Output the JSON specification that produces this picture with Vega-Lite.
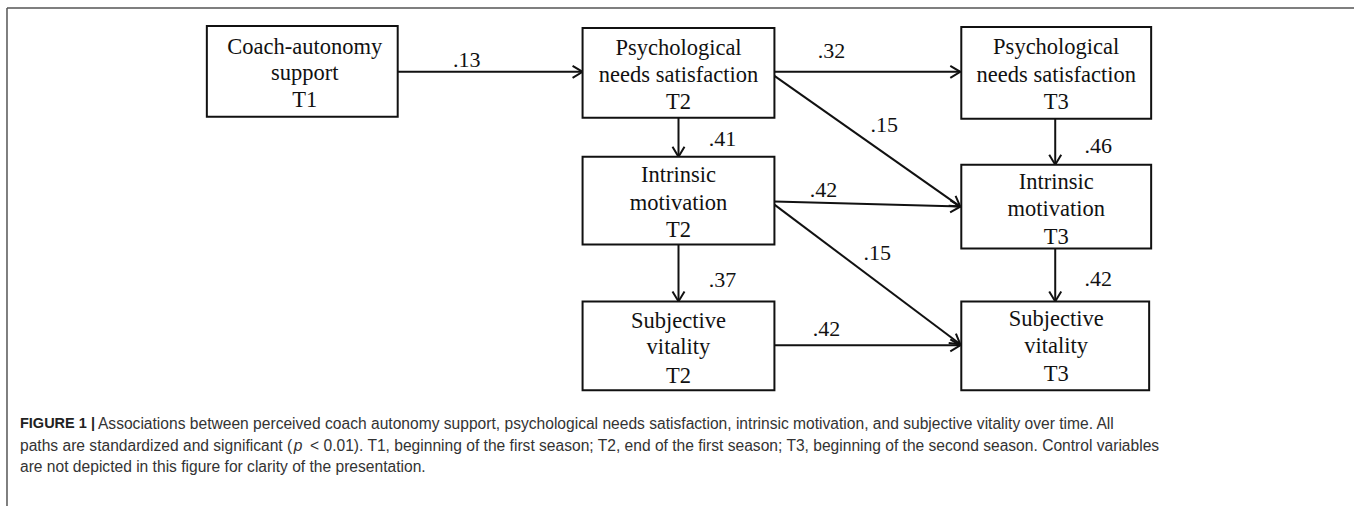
{
  "$schema": "https://vega.github.io/schema/vega-lite/v6.json",
  "autosize": {"type": "fit", "contains": "padding"},
  "width": 1355,
  "height": 507,
  "padding": 0,
  "background": "white",
  "config": {"view": {"stroke": null}},
  "datasets": {
    "frame": [
      {"x": 7, "y": 8, "x2": 1355, "y2": 8},
      {"x": 7, "y": 8, "x2": 7, "y2": 507}
    ],
    "boxes": [
      {"name": "Coach T1", "x": 207, "x2": 398, "y": 26, "y2": 117},
      {"name": "PNS T2", "x": 583, "x2": 775, "y": 28, "y2": 118},
      {"name": "PNS T3", "x": 962, "x2": 1152, "y": 27, "y2": 119},
      {"name": "IM T2", "x": 583, "x2": 775, "y": 157, "y2": 245},
      {"name": "IM T3", "x": 962, "x2": 1152, "y": 165, "y2": 249},
      {"name": "SV T2", "x": 583, "x2": 775, "y": 302, "y2": 391},
      {"name": "SV T3", "x": 962, "x2": 1150, "y": 302, "y2": 391}
    ],
    "boxText": [
      {"x": 305, "y": 47, "text": "Coach-autonomy"},
      {"x": 305, "y": 73, "text": "support"},
      {"x": 305, "y": 100, "text": "T1"},
      {"x": 679, "y": 48, "text": "Psychological"},
      {"x": 679, "y": 75, "text": "needs satisfaction"},
      {"x": 679, "y": 102, "text": "T2"},
      {"x": 1057, "y": 47, "text": "Psychological"},
      {"x": 1057, "y": 75, "text": "needs satisfaction"},
      {"x": 1057, "y": 102, "text": "T3"},
      {"x": 679, "y": 175, "text": "Intrinsic"},
      {"x": 679, "y": 203, "text": "motivation"},
      {"x": 679, "y": 230, "text": "T2"},
      {"x": 1057, "y": 182, "text": "Intrinsic"},
      {"x": 1057, "y": 209, "text": "motivation"},
      {"x": 1057, "y": 237, "text": "T3"},
      {"x": 679, "y": 322, "text": "Subjective"},
      {"x": 679, "y": 348, "text": "vitality"},
      {"x": 679, "y": 377, "text": "T2"},
      {"x": 1057, "y": 320, "text": "Subjective"},
      {"x": 1057, "y": 347, "text": "vitality"},
      {"x": 1057, "y": 375, "text": "T3"}
    ],
    "edges": [
      {"path": "Coach T1 -> PNS T2", "x": 398, "y": 72, "x2": 583, "y2": 72, "angle": 0, "coef": ".13", "lx": 467, "ly": 60},
      {"path": "PNS T2 -> PNS T3", "x": 775, "y": 72, "x2": 961, "y2": 72, "angle": 0, "coef": ".32", "lx": 832, "ly": 51},
      {"path": "PNS T2 -> IM T3", "x": 775, "y": 76, "x2": 961, "y2": 207, "angle": 35.2, "coef": ".15", "lx": 885, "ly": 125},
      {"path": "PNS T2 -> IM T2", "x": 679, "y": 118, "x2": 679, "y2": 157, "angle": 90, "coef": ".41", "lx": 723, "ly": 139},
      {"path": "IM T2 -> IM T3", "x": 775, "y": 202, "x2": 961, "y2": 207, "angle": 1.5, "coef": ".42", "lx": 824, "ly": 190},
      {"path": "IM T2 -> SV T3", "x": 775, "y": 205, "x2": 961, "y2": 345, "angle": 37, "coef": ".15", "lx": 878, "ly": 253},
      {"path": "IM T2 -> SV T2", "x": 679, "y": 245, "x2": 679, "y2": 302, "angle": 90, "coef": ".37", "lx": 723, "ly": 281},
      {"path": "SV T2 -> SV T3", "x": 775, "y": 346, "x2": 961, "y2": 346, "angle": 0, "coef": ".42", "lx": 827, "ly": 330},
      {"path": "PNS T3 -> IM T3", "x": 1056, "y": 119, "x2": 1056, "y2": 165, "angle": 90, "coef": ".46", "lx": 1099, "ly": 146},
      {"path": "IM T3 -> SV T3", "x": 1056, "y": 249, "x2": 1056, "y2": 302, "angle": 90, "coef": ".42", "lx": 1099, "ly": 280}
    ],
    "caption": [
      {"kind": "bold", "x": 20, "y": 425, "text": "FIGURE 1 |"},
      {"kind": "regular", "x": 98, "y": 425, "text": "Associations between perceived coach autonomy support, psychological needs satisfaction, intrinsic motivation, and subjective vitality over time. All"},
      {"kind": "regular", "x": 20, "y": 447, "text": "paths are standardized and significant ("},
      {"kind": "italic", "x": 294, "y": 447, "text": "p"},
      {"kind": "end", "x": 1160, "y": 447, "text": "< 0.01). T1, beginning of the first season; T2, end of the first season; T3, beginning of the second season. Control variables"},
      {"kind": "regular", "x": 20, "y": 468, "text": "are not depicted in this figure for clarity of the presentation."}
    ]
  },
  "encoding": {
    "x": {"field": "x", "type": "quantitative", "scale": {"domain": [0, 1355], "nice": false, "zero": false}, "axis": null},
    "y": {"field": "y", "type": "quantitative", "scale": {"domain": [0, 507], "nice": false, "zero": false, "reverse": true}, "axis": null}
  },
  "layer": [
    {
      "data": {"name": "frame"},
      "mark": {"type": "rule", "color": "#555555", "strokeWidth": 1.5},
      "encoding": {"x2": {"field": "x2"}, "y2": {"field": "y2"}}
    },
    {
      "data": {"name": "edges"},
      "mark": {"type": "rule", "color": "#111111", "strokeWidth": 2},
      "encoding": {"x2": {"field": "x2"}, "y2": {"field": "y2"}}
    },
    {
      "data": {"name": "edges"},
      "mark": {"type": "point", "shape": "M-1,-0.6L0,0L-1,0.6", "filled": false, "stroke": "#111111", "strokeWidth": 2, "size": 400, "opacity": 1, "strokeJoin": "miter"},
      "encoding": {
        "x": {"field": "x2", "type": "quantitative"},
        "y": {"field": "y2", "type": "quantitative"},
        "angle": {"field": "angle", "type": "quantitative", "scale": null}
      }
    },
    {
      "data": {"name": "boxes"},
      "mark": {"type": "rect", "fill": "white", "stroke": "#111111", "strokeWidth": 2},
      "encoding": {"x2": {"field": "x2"}, "y2": {"field": "y2"}}
    },
    {
      "data": {"name": "boxText"},
      "mark": {"type": "text", "font": "Liberation Serif", "fontSize": 22.5, "align": "center", "baseline": "middle", "color": "#111111"},
      "encoding": {"text": {"field": "text"}}
    },
    {
      "data": {"name": "edges"},
      "mark": {"type": "text", "font": "Liberation Serif", "fontSize": 22, "align": "center", "baseline": "middle", "color": "#111111"},
      "encoding": {
        "x": {"field": "lx", "type": "quantitative"},
        "y": {"field": "ly", "type": "quantitative"},
        "text": {"field": "coef"}
      }
    },
    {
      "data": {"name": "caption"},
      "transform": [{"filter": "datum.kind === 'bold'"}],
      "mark": {"type": "text", "font": "Liberation Sans", "fontSize": 14.5, "fontWeight": "bold", "align": "left", "baseline": "middle", "color": "#222222"},
      "encoding": {"text": {"field": "text"}}
    },
    {
      "data": {"name": "caption"},
      "transform": [{"filter": "datum.kind === 'regular'"}],
      "mark": {"type": "text", "font": "Liberation Sans", "fontSize": 15.6, "align": "left", "baseline": "middle", "color": "#333333"},
      "encoding": {"text": {"field": "text"}}
    },
    {
      "data": {"name": "caption"},
      "transform": [{"filter": "datum.kind === 'end'"}],
      "mark": {"type": "text", "font": "Liberation Sans", "fontSize": 15.6, "align": "right", "baseline": "middle", "color": "#333333"},
      "encoding": {"text": {"field": "text"}}
    },
    {
      "data": {"name": "caption"},
      "transform": [{"filter": "datum.kind === 'italic'"}],
      "mark": {"type": "text", "font": "Liberation Sans", "fontSize": 15.6, "fontStyle": "italic", "align": "left", "baseline": "middle", "color": "#333333"},
      "encoding": {"text": {"field": "text"}}
    }
  ]
}
